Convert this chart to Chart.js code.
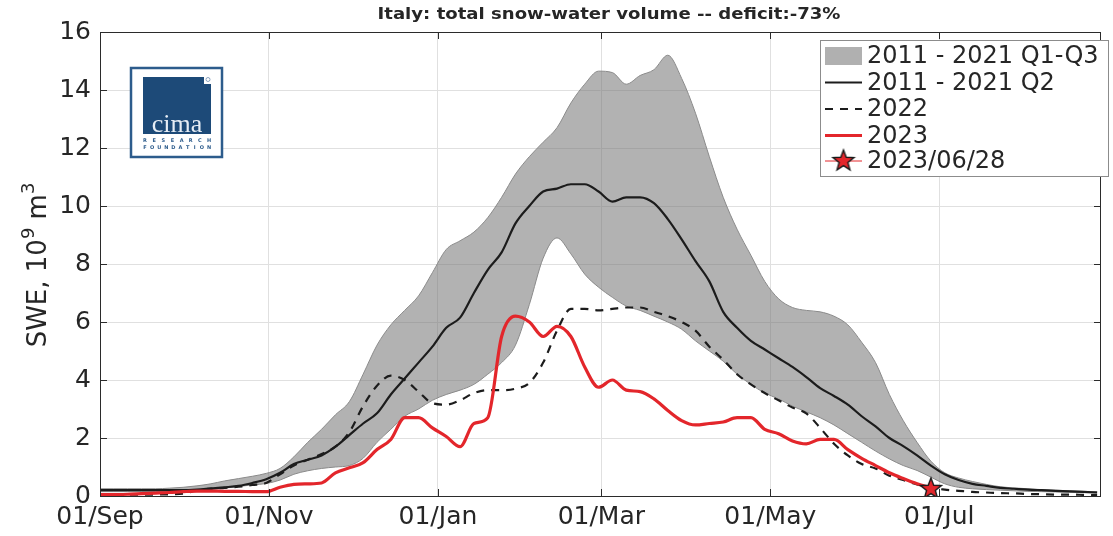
<!DOCTYPE html>
<html>
<head>
<meta charset="utf-8">
<script src="https://cdn.jsdelivr.net/npm/chart.js@4.4.1/dist/chart.umd.min.js"></script>
<style>
  html, body { margin: 0; padding: 0; background: #ffffff; overflow: hidden; }
  #wrap { width: 1113px; height: 536px; position: relative; }
</style>
</head>
<body>
<div id="wrap"><canvas id="c" width="1113" height="536"></canvas></div>
<script>
// Season axis: days counted from 1 September
const dayTicks = [0, 61, 122, 181, 242, 303];
const dayTickLabels = ['01/Sep', '01/Nov', '01/Jan', '01/Mar', '01/May', '01/Jul'];
const yTicks = [0, 2, 4, 6, 8, 10, 12, 14, 16];

const days = [
  0, 5, 10, 15, 20, 25, 30, 35, 40, 45, 50, 55, 60, 65, 70, 75, 80, 85, 90, 95,
  100, 105, 110, 115, 120, 125, 130, 135, 140, 145, 150, 155, 160, 165, 170, 175, 180, 185, 190, 195,
  200, 205, 210, 215, 220, 225, 230, 235, 240, 245, 250, 255, 260, 265, 270, 275, 280, 285, 290, 295,
  300, 305, 310, 315, 320, 325, 330, 335, 340, 345, 350, 355, 360
];

// 2011-2021 upper quartile (Q3), 10^9 m^3
const q3 = [
  0.25, 0.25, 0.25, 0.25, 0.25, 0.27, 0.30,
  0.35, 0.42, 0.52, 0.60, 0.68, 0.78,
  0.95, 1.35, 1.85, 2.30, 2.80, 3.25, 4.20, 5.20,
  5.90, 6.40, 6.90, 7.70, 8.50, 8.80, 9.10, 9.60,
  10.3, 11.1, 11.7, 12.2, 12.7, 13.55, 14.2, 14.65,
  14.6, 14.2, 14.5, 14.7, 15.2, 14.4, 13.2, 11.7,
  10.3, 9.2, 8.3, 7.4, 6.8, 6.5, 6.4, 6.35,
  6.2, 5.9, 5.3, 4.6, 3.5, 2.6, 1.85, 1.2,
  0.8, 0.62, 0.5, 0.4, 0.32, 0.28, 0.25, 0.22,
  0.2, 0.18, 0.16, 0.15
];

// 2011-2021 lower quartile (Q1)
const q1 = [
  0.15, 0.15, 0.15, 0.15, 0.15, 0.15, 0.16,
  0.18, 0.22, 0.27, 0.33, 0.38, 0.43,
  0.55, 0.75, 0.87, 0.95, 1.0, 1.05, 1.3, 1.85,
  2.3, 2.75, 3.0, 3.3, 3.5, 3.65, 3.85, 4.2,
  4.6, 5.2, 6.6, 8.2, 8.9, 8.35, 7.65, 7.2,
  6.85, 6.55, 6.4, 6.2, 6.0, 5.75, 5.35, 5.0,
  4.65, 4.2, 3.85, 3.55, 3.35, 3.1, 2.9, 2.7,
  2.45, 2.15, 1.85, 1.55, 1.28, 1.05, 0.88, 0.65,
  0.42, 0.3, 0.25, 0.22, 0.2, 0.18, 0.16, 0.15,
  0.14, 0.13, 0.12, 0.1
];

// 2011-2021 median (Q2)
const q2 = [
  0.2, 0.2, 0.2, 0.2, 0.2, 0.2, 0.2,
  0.22, 0.26, 0.3, 0.35, 0.45, 0.58,
  0.8, 1.1, 1.25, 1.4, 1.7, 2.1, 2.5, 2.85,
  3.5, 4.05, 4.6, 5.15, 5.8, 6.15, 7.0, 7.8,
  8.4, 9.4, 10.0, 10.5, 10.6, 10.75, 10.75, 10.5,
  10.15, 10.3, 10.3, 10.1, 9.55, 8.85, 8.1, 7.4,
  6.35, 5.8, 5.35, 5.05, 4.75, 4.45, 4.1, 3.72,
  3.45, 3.15, 2.75, 2.4, 2.0, 1.72, 1.4, 1.05,
  0.75, 0.55, 0.42, 0.35, 0.28, 0.25, 0.22, 0.2,
  0.18, 0.16, 0.14, 0.12
];

// Season 2022
const y2022 = [
  0.05, 0.05, 0.05, 0.05, 0.05, 0.06, 0.08,
  0.2, 0.25, 0.28, 0.32, 0.38, 0.45,
  0.75, 1.05, 1.25, 1.45, 1.7, 2.2, 3.1, 3.8,
  4.15, 4.0, 3.6, 3.2, 3.15, 3.3, 3.55, 3.65,
  3.65, 3.7, 3.9, 4.6, 5.7, 6.45, 6.45, 6.4,
  6.45, 6.5, 6.5, 6.35, 6.2, 6.0, 5.7, 5.15,
  4.7, 4.2, 3.85, 3.55, 3.3, 3.05, 2.85, 2.35,
  1.8, 1.4, 1.1, 0.95, 0.7, 0.55, 0.4, 0.28,
  0.22, 0.18, 0.14, 0.12, 0.1, 0.09, 0.07, 0.06,
  0.05, 0.05, 0.04, 0.03
];

// Season 2023 (up to 28 June)
const y2023 = [
  0.05, 0.05, 0.06, 0.08, 0.1, 0.12, 0.15,
  0.17, 0.17, 0.16, 0.16, 0.15, 0.15,
  0.3, 0.4, 0.42, 0.45, 0.8, 0.97, 1.15, 1.6,
  1.95, 2.7, 2.7, 2.35, 2.05, 1.7, 2.5, 2.7,
  5.5, 6.2, 6.0, 5.5, 5.85, 5.5, 4.45, 3.75,
  4.0, 3.65, 3.6, 3.35, 2.95, 2.6, 2.45, 2.5,
  2.55, 2.7, 2.7, 2.3, 2.15, 1.9, 1.8, 1.95,
  1.95, 1.6, 1.3, 1.05, 0.8, 0.6, 0.42, 0.28,
  null, null, null, null, null, null, null, null,
  null, null, null, null
];

// Latest observation
const starDay = 300;
const starValue = 0.28;

const TITLE = 'Italy: total snow-water volume -- deficit:-73%';
const FONT = '"DejaVu Sans", "Liberation Sans", sans-serif';
const TEXT = '#262626';
const GRID = '#e0e0e0';
const AXIS = '#2b2b2b';
const RED = '#e3262b';
const BAND_FILL = 'rgba(118,118,118,0.56)';
const BAND_EDGE = '#8a8a8a';

const pts = vals => days.map((d, i) => ({ x: d, y: vals[i] }));

function makeStar(r, fill, stroke) {
  const s = Math.ceil(r * 2 + 4);
  const c = document.createElement('canvas');
  c.width = s; c.height = s;
  const g = c.getContext('2d');
  g.translate(s / 2, s / 2 + 1);
  g.beginPath();
  for (let i = 0; i < 10; i++) {
    const rad = i % 2 ? r * 0.42 : r;
    const a = -Math.PI / 2 + i * Math.PI / 5;
    g.lineTo(rad * Math.cos(a), rad * Math.sin(a));
  }
  g.closePath();
  g.fillStyle = fill; g.fill();
  g.lineWidth = 1.4; g.strokeStyle = stroke; g.stroke();
  return c;
}
const starImg = makeStar(11, RED, '#1a1a1a');

// Axes box with inward ticks, drawn over the data
const framePlugin = {
  id: 'frame',
  afterDatasetsDraw(chart) {
    const { ctx, chartArea: a, scales } = chart;
    ctx.save();
    ctx.strokeStyle = AXIS;
    ctx.lineWidth = 1;
    ctx.strokeRect(a.left + 0.5, a.top + 0.5, a.right - a.left - 1, a.bottom - a.top);
    const L = 7;
    ctx.beginPath();
    dayTicks.forEach(v => {
      const x = Math.round(scales.x.getPixelForValue(v)) + 0.5;
      ctx.moveTo(x, a.bottom); ctx.lineTo(x, a.bottom - L);
      ctx.moveTo(x, a.top); ctx.lineTo(x, a.top + L);
    });
    yTicks.forEach(v => {
      const y = Math.round(scales.y.getPixelForValue(v)) + 0.5;
      ctx.moveTo(a.left, y); ctx.lineTo(a.left + L, y);
      ctx.moveTo(a.right, y); ctx.lineTo(a.right - L, y);
    });
    ctx.stroke();
    ctx.restore();
  }
};

// Title, y-axis label with superscripts, logo and legend
const decorPlugin = {
  id: 'decor',
  afterDraw(chart) {
    const { ctx, chartArea: a } = chart;
    ctx.save();

    // title
    ctx.save();
    ctx.fillStyle = TEXT;
    ctx.font = 'bold 16px ' + FONT;
    ctx.textAlign = 'center';
    ctx.textBaseline = 'alphabetic';
    ctx.translate(609, 19);
    ctx.scale(1.13, 1);
    ctx.fillText(TITLE, 0, 0);
    ctx.restore();

    // y-axis label: SWE, 10^9 m^3
    ctx.save();
    ctx.fillStyle = TEXT;
    ctx.translate(46, 265);
    ctx.rotate(-Math.PI / 2);
    const big = '26px ' + FONT, small = '18px ' + FONT;
    const parts = [['SWE, 10', big, 0], ['9', small, -12], [' m', big, 0], ['3', small, -12]];
    let total = 0;
    parts.forEach(p => { ctx.font = p[1]; total += ctx.measureText(p[0]).width; });
    let px = -total / 2;
    ctx.textAlign = 'left';
    parts.forEach(p => {
      ctx.font = p[1];
      ctx.fillText(p[0], px, p[2]);
      px += ctx.measureText(p[0]).width;
    });
    ctx.restore();

    // logo
    const LX = 131, LY = 68, LW = 91, LH = 89;
    ctx.fillStyle = '#ffffff';
    ctx.fillRect(LX, LY, LW, LH);
    ctx.strokeStyle = '#2d5c8c';
    ctx.lineWidth = 2.5;
    ctx.strokeRect(LX, LY, LW, LH);
    ctx.fillStyle = '#1d4a78';
    ctx.beginPath();
    ctx.moveTo(143, 77); ctx.lineTo(204, 77); ctx.lineTo(204, 84); ctx.lineTo(211, 84);
    ctx.lineTo(211, 134); ctx.lineTo(143, 134); ctx.closePath();
    ctx.fill();
    ctx.strokeStyle = '#6f8db0'; ctx.lineWidth = 0.8;
    ctx.beginPath(); ctx.arc(208, 79.5, 2, 0, Math.PI * 2); ctx.stroke();
    ctx.fillStyle = '#e6edf5';
    ctx.font = '26px "Liberation Serif", "DejaVu Serif", serif';
    ctx.textAlign = 'center';
    ctx.fillText('cima', 177, 132);
    ctx.fillStyle = '#2d5c8c';
    ctx.font = 'bold 5px ' + FONT;
    const spaced = (s, cx, y, w) => {
      const step = w / (s.length - 1);
      for (let i = 0; i < s.length; i++) ctx.fillText(s[i], cx - w / 2 + i * step, y);
    };
    spaced('RESEARCH', 177, 142, 64);
    spaced('FOUNDATION', 177, 149, 64);

    // legend
    const BX = 820, BY = 40, BW = 288, BH = 136;
    ctx.fillStyle = '#ffffff';
    ctx.fillRect(BX, BY, BW, BH);
    ctx.strokeStyle = '#8c8c8c'; ctx.lineWidth = 1;
    ctx.strokeRect(BX + 0.5, BY + 0.5, BW, BH);
    const rows = chart.data.datasets.filter(d => d.label && !d.hideInLegend);
    const rowY = [56, 82.5, 109, 135.5, 161];
    const sx0 = 825, sx1 = 862, tx = 867;
    ctx.font = '24px ' + FONT;
    ctx.textAlign = 'left';
    ctx.textBaseline = 'middle';
    rows.forEach((d, i) => {
      const y = rowY[i];
      ctx.save();
      if (d.legendKind === 'patch') {
        ctx.fillStyle = '#b0b0b0';
        ctx.fillRect(sx0, y - 9, sx1 - sx0, 18);
      } else if (d.legendKind === 'marker') {
        ctx.strokeStyle = RED; ctx.lineWidth = 1;
        ctx.beginPath(); ctx.moveTo(sx0, y); ctx.lineTo(sx1, y); ctx.stroke();
        ctx.drawImage(starImg, (sx0 + sx1) / 2 - starImg.width / 2, y - starImg.height / 2 - 1);
      } else {
        ctx.strokeStyle = d.borderColor; ctx.lineWidth = d.borderWidth;
        ctx.setLineDash(d.borderDash || []);
        ctx.beginPath(); ctx.moveTo(sx0, y); ctx.lineTo(sx1, y); ctx.stroke();
      }
      ctx.restore();
      ctx.fillStyle = TEXT;
      ctx.fillText(d.label, tx, y + 1);
    });
    ctx.restore();
  }
};

const common = { pointRadius: 0, pointHoverRadius: 0, cubicInterpolationMode: 'monotone', fill: false };

new Chart(document.getElementById('c'), {
  type: 'line',
  data: {
    datasets: [
      Object.assign({}, common, {
        label: '2011 - 2021 Q1-Q3', legendKind: 'patch', data: pts(q3),
        borderColor: BAND_EDGE, borderWidth: 1, backgroundColor: BAND_FILL,
        fill: { target: 1 }, order: 5
      }),
      Object.assign({}, common, {
        label: '', hideInLegend: true, data: pts(q1),
        borderColor: BAND_EDGE, borderWidth: 1, order: 4
      }),
      Object.assign({}, common, {
        label: '2011 - 2021 Q2', data: pts(q2),
        borderColor: '#1c1c1c', borderWidth: 2.2, order: 3
      }),
      Object.assign({}, common, {
        label: '2022', data: pts(y2022),
        borderColor: '#1c1c1c', borderWidth: 2.2, borderDash: [8, 7], order: 2
      }),
      Object.assign({}, common, {
        label: '2023', data: pts(y2023),
        borderColor: RED, borderWidth: 3.2, order: 1
      }),
      {
        label: '2023/06/28', legendKind: 'marker',
        data: [{ x: starDay, y: starValue }], showLine: false,
        pointStyle: starImg, pointRadius: 11, pointHoverRadius: 11, order: 0
      }
    ]
  },
  options: {
    responsive: false,
    animation: false,
    events: [],
    layout: { padding: { top: 32, right: 1, left: 0, bottom: 0 } },
    plugins: {
      legend: { display: false },
      tooltip: { enabled: false },
      title: { display: false },
      filler: { drawTime: 'beforeDatasetsDraw' }
    },
    scales: {
      x: {
        type: 'linear', min: 0, max: 361.4,
        afterBuildTicks: s => { s.ticks = dayTicks.map(v => ({ value: v })); },
        afterFit: s => { s.height = 40; s.paddingLeft = 0; s.paddingRight = 0; },
        ticks: {
          autoSkip: false, maxRotation: 0, padding: 6,
          color: TEXT, font: { family: FONT, size: 25 },
          callback: v => dayTickLabels[dayTicks.indexOf(v)]
        },
        grid: { color: GRID, lineWidth: 1, drawTicks: false },
        border: { display: false }
      },
      y: {
        min: 0, max: 16,
        afterBuildTicks: s => { s.ticks = yTicks.map(v => ({ value: v })); },
        afterFit: s => { s.width = 100; s.paddingTop = 0; s.paddingBottom = 0; },
        ticks: {
          padding: 9, color: TEXT, font: { family: FONT, size: 25 },
          callback: v => String(v)
        },
        grid: { color: GRID, lineWidth: 1, drawTicks: false },
        border: { display: false }
      }
    }
  },
  plugins: [framePlugin, decorPlugin]
});
</script>
</body>
</html>
